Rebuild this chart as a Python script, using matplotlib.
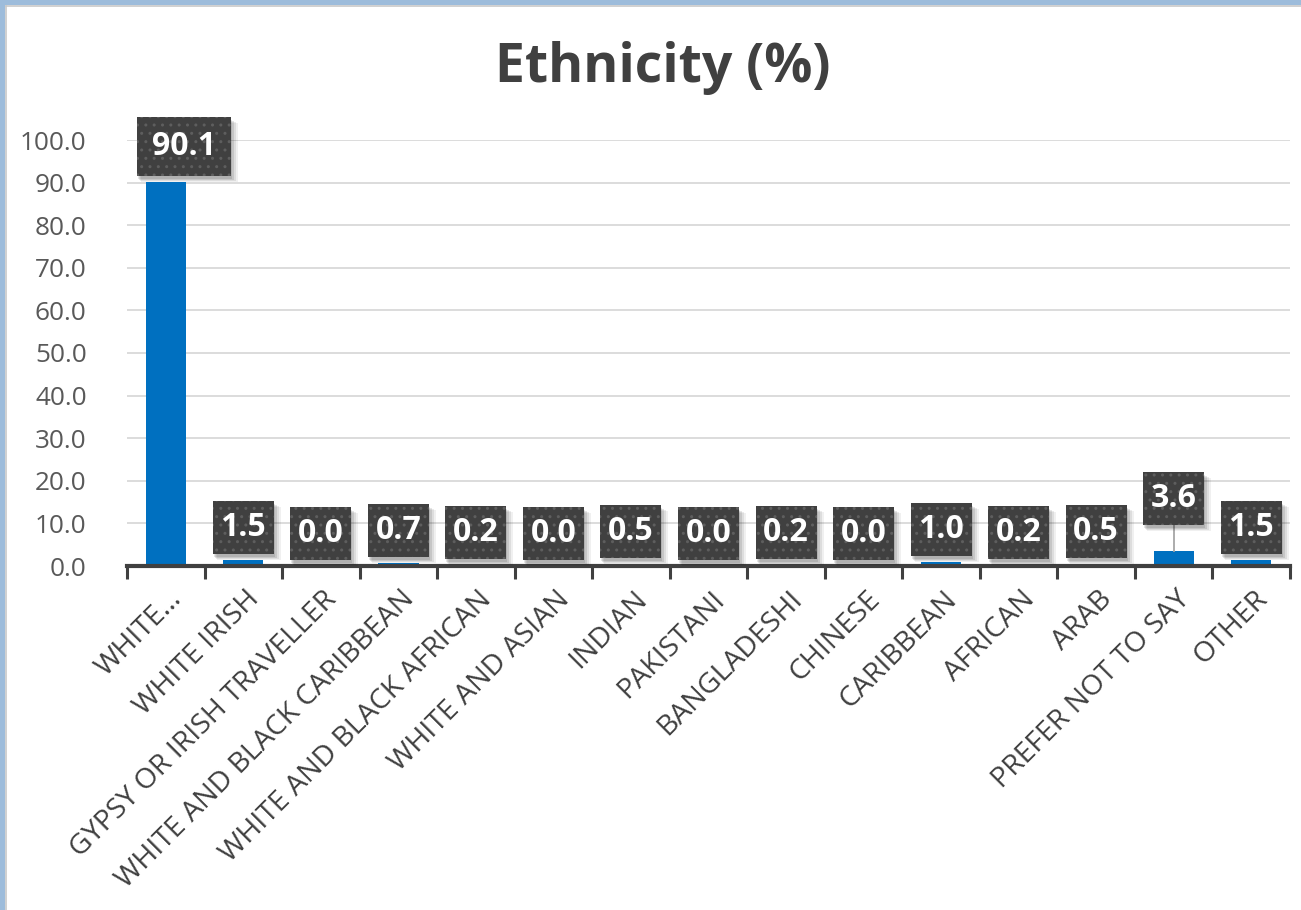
import matplotlib
matplotlib.use("Agg")
import matplotlib.pyplot as plt
from matplotlib.patches import Rectangle

categories = ["WHITE…", "WHITE IRISH", "GYPSY OR IRISH TRAVELLER", "WHITE AND BLACK CARIBBEAN",
              "WHITE AND BLACK AFRICAN", "WHITE AND ASIAN", "INDIAN", "PAKISTANI", "BANGLADESHI",
              "CHINESE", "CARIBBEAN", "AFRICAN", "ARAB", "PREFER NOT TO SAY", "OTHER"]
values = [90.1, 1.5, 0.0, 0.7, 0.2, 0.0, 0.5, 0.0, 0.2, 0.0, 1.0, 0.2, 0.5, 3.6, 1.5]
yticks = [0, 10, 20, 30, 40, 50, 60, 70, 80, 90, 100]
title = "Ethnicity (%)"

FONT = ["Open Sans", "DejaVu Sans"]
W, H = 1301, 910
fig = plt.figure(figsize=(W / 100, H / 100), dpi=100)

# frame border
fig.patches.append(Rectangle((0, 1 - 5 / H), 1, 5 / H, transform=fig.transFigure,
                             facecolor="#9DBCDB", edgecolor="none", zorder=0))
fig.patches.append(Rectangle((0, 0), 5 / W, 1, transform=fig.transFigure,
                             facecolor="#9DBCDB", edgecolor="none", zorder=0))
fig.add_artist(plt.Line2D([5.5 / W, 1], [1 - 5.5 / H, 1 - 5.5 / H], transform=fig.transFigure,
                          color="#C8C8C8", lw=1.2))
fig.add_artist(plt.Line2D([5.5 / W, 5.5 / W], [0, 1 - 5.5 / H], transform=fig.transFigure,
                          color="#C8C8C8", lw=1.2))

left, right = 127, 1290
y0, y100 = 566, 140
ax = fig.add_axes([left / W, 1 - y0 / H, (right - left) / W, (y0 - y100) / H])
ax.set_xlim(0, len(categories))
ax.set_ylim(0, 100)
ax.patch.set_alpha(0)

pxx = (right - left) / len(categories)
pxy = (y0 - y100) / 100.0

xs = [i + 0.5 for i in range(len(categories))]
ax.bar(xs, values, width=0.52, color="#0070C0", zorder=2)

ax.set_yticks(yticks)
ax.set_yticklabels([f"{v:.1f}" for v in yticks], fontsize=18.8, color="#595959", family=FONT)
ax.tick_params(axis="y", length=0, pad=29)
ax.grid(axis="y", color="#D9D9D9", lw=1.3, zorder=0)
ax.set_axisbelow(True)

ax.set_xticks(range(len(categories) + 1))
ax.set_xticklabels([])
ax.tick_params(axis="x", length=9, width=2.2, color="#404040", direction="out")
ax.set_xticks([x + 12 / pxx for x in xs], minor=True)
ax.set_xticklabels(categories, minor=True, rotation=45, ha="right", va="center",
                   rotation_mode="anchor", fontsize=20.5, color="#404040", family=FONT)
ax.tick_params(axis="x", which="minor", length=0, pad=21)

for s in ["top", "right", "left"]:
    ax.spines[s].set_visible(False)
ax.spines["bottom"].set_color("#404040")
ax.spines["bottom"].set_linewidth(3)
ax.spines["bottom"].set_zorder(3)

# data label boxes
for i, (x, v) in enumerate(zip(xs, values)):
    label = f"{v:.1f}"
    wpx = 94 if len(label) > 3 else 61
    hpx = 59 if len(label) > 3 else 53
    cx = x
    bottom = v + 1.4
    if i == 0:
        cx = x + 18 / pxx
    if label == "3.6":
        bottom = v + 6.0
        ax.plot([x, x], [v, bottom], color="#A6A6A6", lw=1.3, zorder=3)
    bw, bh = wpx / pxx, hpx / pxy
    for k, a in [(6, 0.06), (5, 0.08), (4, 0.10), (3, 0.10)]:
        ax.add_patch(Rectangle((cx - bw / 2 + (k - 2) / pxx, bottom - k / pxy), bw + (2 * (k - 3)) / pxx * 0.5,
                               bh, facecolor="#000000", alpha=a, edgecolor="none",
                               zorder=4, clip_on=False))
    ax.add_patch(Rectangle((cx - bw / 2, bottom), bw, bh, facecolor="#404040",
                           edgecolor="none", zorder=5, clip_on=False))
    ax.add_patch(Rectangle((cx - bw / 2, bottom), bw, bh, facecolor="none",
                           edgecolor="#5E5E5E", lw=0, hatch="..", zorder=5, clip_on=False))
    ax.text(cx, bottom + bh / 2, label, ha="center", va="center", color="white",
            fontsize=23, fontweight="bold", family=FONT, zorder=6, clip_on=False)

fig.text(663 / W, 1 - 68 / H, title, ha="center", va="center", fontsize=38.5,
         fontweight="bold", color="#404040", family=FONT)

fig.savefig("out.png", dpi=100)
